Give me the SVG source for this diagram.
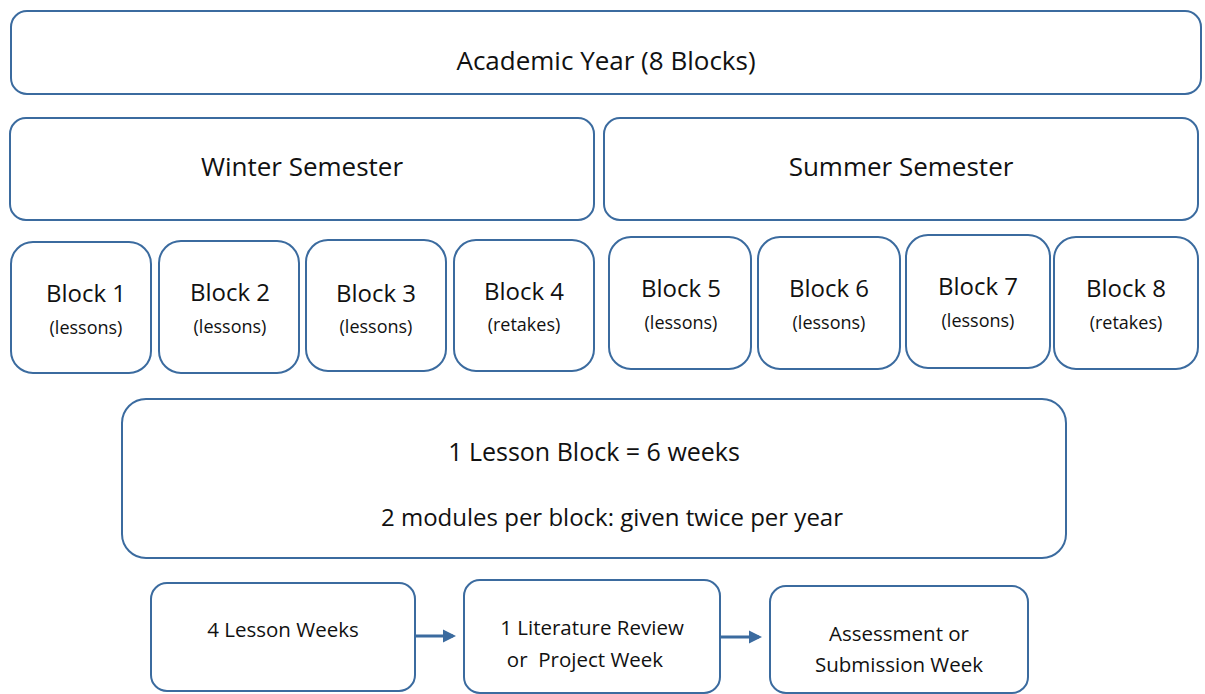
<svg xmlns="http://www.w3.org/2000/svg" width="1205" height="694" viewBox="0 0 1205 694">
<style>
.b{fill:#fff;stroke:#3b6b9f;stroke-width:2}
text{font-family:"Open Sans","Lato",sans-serif;fill:#111;text-anchor:middle;white-space:pre}
.t1{font-size:26px}
.t5{font-size:25px}
.t6{font-size:24px}
.t2{font-size:24px}
.t3{font-size:18px}
.t4{font-size:20.5px}
.c{stroke:#3b6b9f;stroke-width:3;fill:none}
</style>
<defs>
<marker id="ah" markerWidth="4.5" markerHeight="4.5" refX="3.5" refY="2.25" orient="auto" markerUnits="strokeWidth">
<path d="M0,0 L4.5,2.25 L0,4.5 z" fill="#3b6b9f"/>
</marker>
</defs>
<g id="academic"><rect class="b" x="11" y="11" width="1190" height="83" rx="16"/><text class="t1" x="606" y="70">Academic Year (8 Blocks)</text></g>
<g id="winter"><rect class="b" x="10" y="118" width="584" height="102" rx="16"/><text class="t1" x="302" y="176">Winter Semester</text></g>
<g id="summer"><rect class="b" x="604" y="118" width="594" height="102" rx="16"/><text class="t1" x="901" y="176">Summer Semester</text></g>
<g id="block1"><rect class="b" x="11" y="242" width="140" height="131" rx="22"/><text class="t2" x="86" y="302">Block 1</text><text class="t3" x="86" y="334">(lessons)</text></g>
<g id="block2"><rect class="b" x="159" y="241" width="140" height="132" rx="22"/><text class="t2" x="230" y="301">Block 2</text><text class="t3" x="230" y="333">(lessons)</text></g>
<g id="block3"><rect class="b" x="306" y="240" width="140" height="131" rx="22"/><text class="t2" x="376" y="302">Block 3</text><text class="t3" x="376" y="333">(lessons)</text></g>
<g id="block4"><rect class="b" x="454" y="240" width="140" height="131" rx="22"/><text class="t2" x="524" y="300">Block 4</text><text class="t3" x="524" y="331">(retakes)</text></g>
<g id="block5"><rect class="b" x="609" y="237" width="142" height="132" rx="22"/><text class="t2" x="681" y="297">Block 5</text><text class="t3" x="681" y="329">(lessons)</text></g>
<g id="block6"><rect class="b" x="758" y="237" width="142" height="132" rx="22"/><text class="t2" x="829" y="297">Block 6</text><text class="t3" x="829" y="329">(lessons)</text></g>
<g id="block7"><rect class="b" x="906" y="235" width="144" height="133" rx="22"/><text class="t2" x="978" y="295">Block 7</text><text class="t3" x="978" y="327">(lessons)</text></g>
<g id="block8"><rect class="b" x="1054" y="237" width="144" height="132" rx="22"/><text class="t2" x="1126" y="297">Block 8</text><text class="t3" x="1126" y="329">(retakes)</text></g>
<g id="lessonblock"><rect class="b" x="122" y="399" width="944" height="159" rx="24"/><text class="t5" x="594" y="461">1 Lesson Block = 6 weeks</text><text class="t6" x="612" y="526">2 modules per block: given twice per year</text></g>
<g id="lessonweeks"><rect class="b" x="151" y="583" width="264" height="108" rx="16"/><text class="t4" x="283" y="637">4 Lesson Weeks</text></g>
<g id="litreview"><rect class="b" x="464" y="580" width="256" height="113" rx="16"/><text class="t4" x="592" y="635">1 Literature Review</text><text class="t4" x="585" y="667">or  Project Week</text></g>
<g id="assessment"><rect class="b" x="770" y="586" width="258" height="107" rx="16"/><text class="t4" x="899" y="641">Assessment or</text><text class="t4" x="899" y="672">Submission Week</text></g>
<g id="connectors">
<line class="c" x1="416" y1="636" x2="453" y2="636" marker-end="url(#ah)"/>
<line class="c" x1="721" y1="637" x2="759" y2="637" marker-end="url(#ah)"/>
</g>
</svg>
